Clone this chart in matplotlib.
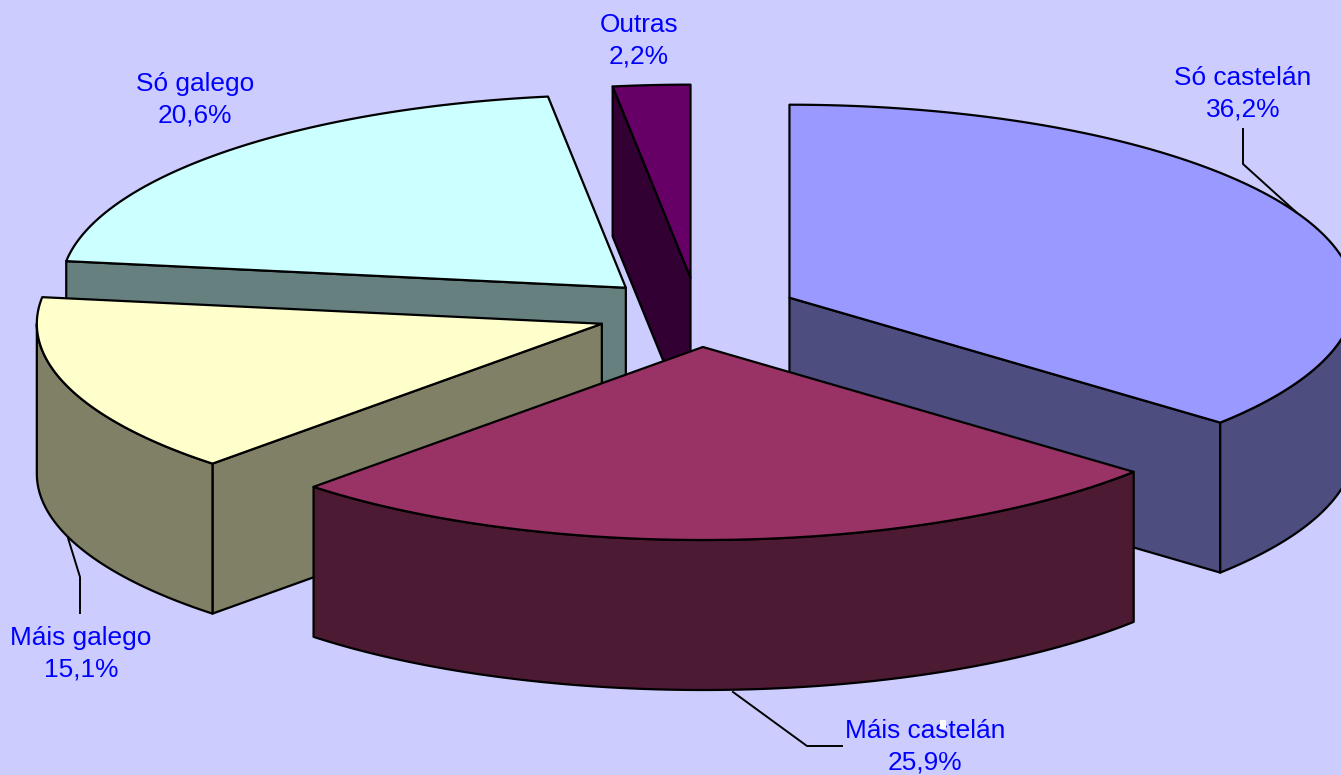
import numpy as np
import matplotlib
matplotlib.use("Agg")
import matplotlib.pyplot as plt

# Slice data, clockwise from 12 o'clock
labels = ["Só castelán", "Máis castelán", "Máis galego", "Só galego", "Outras"]
values = [36.2, 25.9, 15.1, 20.6, 2.2]
value_labels = ["36,2%", "25,9%", "15,1%", "20,6%", "2,2%"]
top_colors = ["#9999ff", "#993366", "#ffffcc", "#ccffff", "#660066"]
side_colors = ["#4d4d80", "#4d1a33", "#808066", "#668080", "#330033"]

# Pie geometry in picture pixels
cx, cy = 697.5, 312.3
rx, ry = 565, 193
depth = 150
explode = 0.18

label_pos = [(1243, 94), (925, 747), (81, 654), (195, 100), (639, 41)]
leaders = {
    0: [(1243, 129), (1243, 164), (1296, 212)],
    1: [(842, 746), (807, 746), (733, 692)],
    2: [(80, 613), (80, 577), (68, 538)],
}
draw_order = [3, 4, 0, 2, 1]

fig = plt.figure(figsize=(13.41, 7.75), dpi=100, facecolor="#ccccff")
ax = fig.add_axes([0, 0, 1, 1])
ax.set_xlim(0, 1341)
ax.set_ylim(775, 0)
ax.axis("off")

fractions = np.array(values) / sum(values)
edges = np.concatenate([[0], np.cumsum(fractions)]) * 2 * np.pi


def rim(x0, y0, a, b):
    n = max(int(abs(b - a) / 0.01), 2)
    t = np.linspace(a, b, n)
    return x0 + rx * np.sin(t), y0 - ry * np.cos(t)


def face(xs, ys, color, z):
    ax.fill(xs, ys, facecolor=color, edgecolor="black", linewidth=1.6,
            joinstyle="round", zorder=z)


for z, i in enumerate(draw_order):
    a, b = edges[i], edges[i + 1]
    mid = (a + b) / 2
    x0 = cx + explode * 563 * np.sin(mid)
    y0 = cy - explode * ry * np.cos(mid)

    # Cut faces, only the ones that look towards the viewer
    for ang, keep in ((a, np.sin(a) < 0), (b, np.sin(b) > 0)):
        ex = x0 + rx * np.sin(ang)
        ey = y0 - ry * np.cos(ang)
        if keep and np.cos(ang) < 0.9 or keep and i == 4:
            face([x0, ex, ex, x0], [y0, ey, ey + depth, y0 + depth], side_colors[i], z)

    # Outer wall, front half of the ellipse only
    lo, hi = max(a, np.pi / 2), min(b, 3 * np.pi / 2)
    if hi > lo:
        wx, wy = rim(x0, y0, lo, hi)
        face(np.r_[wx, wx[::-1]], np.r_[wy, wy[::-1] + depth], side_colors[i], z)

    # Top
    tx, ty = rim(x0, y0, a, b)
    face(np.r_[x0, tx], np.r_[y0, ty], top_colors[i], z)

for i, pts in leaders.items():
    xs, ys = zip(*pts)
    ax.plot(xs, ys, color="black", linewidth=1.4, zorder=20)

for name, val, (tx, ty) in zip(labels, value_labels, label_pos):
    ax.text(tx, ty, name + "\n" + val, color="#0000ff", ha="center", va="center",
            family=["Liberation Sans", "DejaVu Sans"], fontsize=18.9,
            linespacing=1.38, zorder=30)

# little white speck over the "s" of castelán in the source image
ax.fill([940, 946, 946, 940], [720, 720, 729, 729], color="white", linewidth=0, zorder=31)

fig.savefig("out.png", dpi=100, facecolor=fig.get_facecolor())
